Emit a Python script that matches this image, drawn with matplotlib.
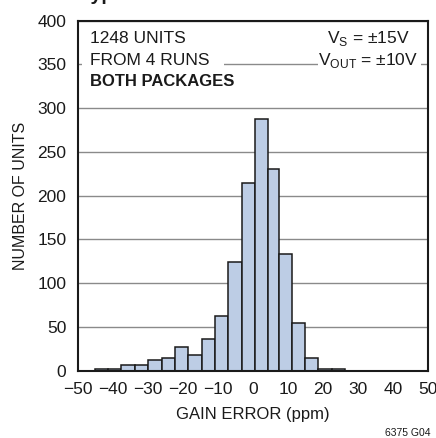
import numpy as np
import matplotlib
matplotlib.use("Agg")
import matplotlib.pyplot as plt
from matplotlib.patches import Rectangle

# histogram bins (ppm) and counts
bin_edges = [-45.1, -41.3, -37.5, -33.7, -29.9, -26.0, -22.2, -18.4, -14.6,
             -10.8, -7.0, -3.2, 0.5, 4.2, 7.4, 11.1, 14.9, 18.7, 22.5, 26.3]
counts = [2, 2, 6, 6, 12, 15, 27, 18, 36, 63, 124, 215, 288, 230, 133, 54,
          15, 2, 2]
x_ticks = [-50, -40, -30, -20, -10, 0, 10, 20, 30, 40, 50]
y_ticks = [0, 50, 100, 150, 200, 250, 300, 350, 400]

plt.rcParams["font.family"] = ["Liberation Sans", "DejaVu Sans"]
plt.rcParams["font.size"] = 12
plt.rcParams["mathtext.fontset"] = "custom"
plt.rcParams["mathtext.rm"] = "Liberation Sans"

INK = "#1a1a1a"

fig = plt.figure(figsize=(4.36, 4.38), dpi=100)
ax = fig.add_axes([0.178, 0.1537, 0.8042, 0.799])

edges = np.array(bin_edges)
ax.bar(edges[:-1], counts, width=np.diff(edges), align="edge",
       color="#bdcde5", edgecolor=INK, linewidth=1.1, zorder=3)

ax.set_xlim(-50, 50)
ax.set_ylim(0, 400)
ax.set_xticks(x_ticks)
ax.set_yticks(y_ticks)
ax.tick_params(length=0, labelsize=12.5, colors=INK)
ax.tick_params(axis="x", pad=8)
ax.tick_params(axis="y", pad=8)
ax.yaxis.grid(True, color="#8a8a8a", linewidth=1.0, zorder=0)
ax.set_axisbelow(True)
for s in ax.spines.values():
    s.set_linewidth(1.5)
    s.set_color(INK)
    s.set_zorder(5)

ax.set_xlabel("GAIN ERROR (ppm)", fontsize=12, color=INK)
ax.xaxis.set_label_coords(0.5, -0.105)
ax.set_ylabel("NUMBER OF UNITS", fontsize=11.5, color=INK)
ax.yaxis.set_label_coords(-0.142, 0.5)

# white patches behind the notes so the gridline breaks around them
for x0, x1 in [(0.012, 0.417), (0.686, 0.979)]:
    ax.add_patch(Rectangle((x0, 0.79), x1 - x0, 0.2, transform=ax.transAxes,
                           facecolor="white", edgecolor="none", zorder=2))

ax.text(0.035, 0.950, "1248 UNITS", transform=ax.transAxes, va="center",
        ha="left", fontsize=12.5, color=INK, zorder=6)
ax.text(0.035, 0.885, "FROM 4 RUNS", transform=ax.transAxes, va="center",
        ha="left", fontsize=12.5, color=INK, zorder=6)
ax.text(0.035, 0.825, "BOTH PACKAGES", transform=ax.transAxes, va="center",
        ha="left", fontsize=12, fontweight="bold", color=INK, zorder=6)
ax.text(0.712, 0.950, r"V$_\mathrm{S}$ = ±15V", transform=ax.transAxes,
        va="center", ha="left", fontsize=12.5, color=INK, zorder=6)
ax.text(0.686, 0.885, r"V$_\mathrm{OUT}$ = ±10V", transform=ax.transAxes,
        va="center", ha="left", fontsize=12.5, color=INK, zorder=6)

# title cut off by the top edge of the image
fig.text(80 / 436, 1.0, "Typical Gain Error Distribution", ha="left",
         va="baseline", fontsize=14, fontweight="bold", color=INK)
fig.text(430 / 436, 1 - 433 / 438, "6375 G04", ha="right", va="center",
         fontsize=7.5, color=INK)

plt.savefig("out.png", dpi=100)
